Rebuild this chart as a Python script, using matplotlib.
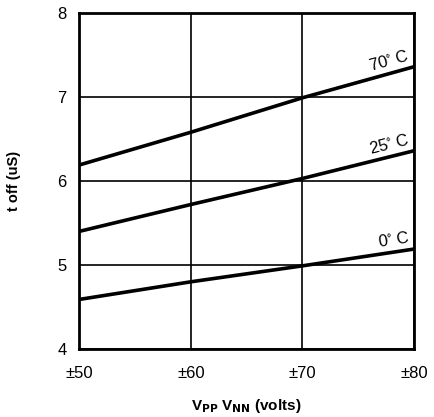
import matplotlib
matplotlib.use("Agg")
from matplotlib import pyplot as plt
import numpy as np

plt.rcParams['font.family'] = ['Liberation Sans', 'DejaVu Sans']
plt.rcParams['mathtext.default'] = 'regular'

# supply voltage (+/- volts)
volts = [50, 60, 70, 80]
xtick_labels = ['±50', '±60', '±70', '±80']

# t off (uS)
toff_0c = [4.59, 4.80, 4.99, 5.19]
toff_25c = [5.40, 5.72, 6.03, 6.36]
toff_70c = [6.19, 6.58, 6.99, 7.36]

curve_labels = ['0$^{\\circ}$ C', '25$^{\\circ}$ C', '70$^{\\circ}$ C']
yticks = [4, 5, 6, 7, 8]

fig = plt.figure(figsize=(4.35, 4.17), dpi=100)
ax = fig.add_axes([0.182, 0.163, 0.770, 0.806])

for ys in (toff_0c, toff_25c, toff_70c):
	ax.plot(volts, ys, color='black', lw=2.6, solid_capstyle='butt', zorder=3)

ax.set_xlim(50, 80)
ax.set_ylim(4, 8)
ax.set_xticks(volts)
ax.set_xticklabels(xtick_labels)
ax.set_yticks(yticks)
ax.grid(True, color='black', lw=1.2)
ax.tick_params(length=0, labelsize=12, pad=9)
ax.tick_params(axis='x', pad=12)
for s in ax.spines.values():
	s.set_linewidth(2)

# curve labels sitting on the right end of each line
for ys, lab in zip((toff_0c, toff_25c, toff_70c), curve_labels):
	p0 = ax.transData.transform((volts[-2], ys[-2]))
	p1 = ax.transData.transform((volts[-1], ys[-1]))
	ang = np.degrees(np.arctan2(p1[1] - p0[1], p1[0] - p0[0]))
	ax.text(79.7, ys[-1] + 0.04, lab, rotation=ang, rotation_mode='anchor',
		ha='right', va='bottom', fontsize=12)

ax.set_ylabel('t off (uS)', fontsize=10.5, fontweight='bold', labelpad=26)
ax.set_xlabel('V$_{\\mathbf{PP}}$ V$_{\\mathbf{NN}}$ (volts)', fontsize=11,
	fontweight='bold', labelpad=12)

fig.savefig('out.png', dpi=100)
